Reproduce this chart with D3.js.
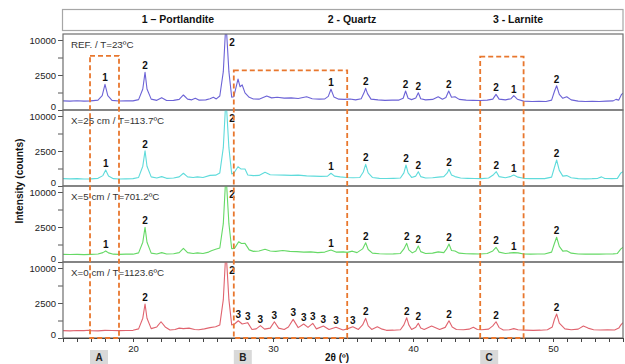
<!DOCTYPE html>
<html>
<head>
<meta charset="utf-8">
<script src="https://cdn.jsdelivr.net/npm/d3@7"></script>
<style>
  body { margin: 0; background: #fff; }
  svg { display: block; font-family: Arial, "Liberation Sans", sans-serif; }
</style>
</head>
<body>
<div id="xrd"></div>
<script>
// ---- data (2θ in degrees, intensity in counts) ----
const phaseNames = ["1 – Portlandite", "2 - Quartz", "3 - Larnite"];
const sampleNames = ["REF. / T=23ºC", "X=25 cm / T=113.7ºC", "X=5 cm / T=701.2ºC", "X=0 cm / T=1123.6ºC"];

const refPattern = [[15.0,170],[15.5,160],[16.0,175],[16.5,160],[17.0,170],[17.5,200],[17.8,420],[18.0,1350],[18.2,420],[18.5,190],[19.0,165],[19.5,175],[20.0,170],[20.4,220],[20.7,900],[20.86,2900],[21.0,900],[21.3,240],[21.7,190],[22.05,310],[22.4,185],[22.9,190],[23.3,230],[23.6,460],[23.9,240],[24.2,210],[24.45,280],[24.7,200],[25.2,210],[25.5,260],[25.74,330],[25.95,250],[26.2,400],[26.45,3000],[26.64,16000],[26.85,3000],[27.05,330],[27.2,360],[27.5,1960],[27.65,1100],[27.8,1280],[28.0,600],[28.3,330],[28.6,250],[29.0,240],[29.55,400],[29.9,300],[30.3,330],[30.8,290],[31.3,300],[31.8,270],[32.4,360],[32.8,260],[33.3,240],[33.7,250],[33.95,380],[34.14,874],[34.35,350],[34.7,240],[35.1,230],[35.5,250],[35.9,210],[36.3,260],[36.5,600],[36.62,960],[36.75,550],[37.0,240],[37.5,210],[38.0,190],[38.5,200],[39.0,200],[39.3,280],[39.47,740],[39.65,280],[39.9,220],[40.2,290],[40.38,610],[40.55,260],[40.9,210],[41.4,230],[41.8,360],[42.1,240],[42.35,320],[42.55,740],[42.75,330],[43.0,360],[43.3,230],[43.8,200],[44.3,190],[44.8,185],[45.3,200],[45.7,240],[45.93,500],[46.15,240],[46.6,210],[47.0,260],[47.2,420],[47.45,240],[47.9,160],[48.5,150],[49.0,155],[49.5,150],[49.9,200],[50.1,700],[50.26,1200],[50.45,500],[50.7,280],[50.98,360],[51.3,210],[51.8,160],[52.3,150],[52.8,155],[53.3,150],[53.8,160],[54.3,170],[54.5,230],[54.7,200],[54.9,500],[55.0,570]];

const x25Pattern = [[15.0,110],[15.5,105],[16.0,110],[16.5,100],[17.0,105],[17.5,120],[17.85,220],[18.05,520],[18.25,200],[18.6,110],[19.0,100],[19.5,105],[20.0,110],[20.4,150],[20.7,800],[20.86,2540],[21.0,800],[21.3,170],[21.7,130],[22.05,180],[22.4,120],[22.9,130],[23.3,170],[23.6,330],[23.9,170],[24.3,150],[24.6,170],[25.0,150],[25.5,230],[25.9,240],[26.2,350],[26.45,3000],[26.64,16000],[26.85,3000],[27.05,300],[27.2,330],[27.5,760],[27.7,600],[28.0,590],[28.2,250],[28.6,220],[29.0,230],[29.43,380],[29.8,260],[30.3,250],[30.8,240],[31.3,230],[31.8,240],[32.4,210],[32.9,200],[33.4,190],[33.9,200],[34.14,330],[34.4,200],[34.8,170],[35.26,150],[35.7,140],[36.2,150],[36.45,400],[36.62,960],[36.8,350],[37.1,150],[37.6,120],[38.1,115],[38.6,120],[39.1,130],[39.35,350],[39.5,900],[39.65,350],[39.9,150],[40.2,200],[40.38,420],[40.55,180],[40.9,130],[41.4,140],[41.8,160],[42.2,180],[42.45,350],[42.57,570],[42.75,250],[43.0,180],[43.4,130],[43.9,120],[44.4,115],[44.9,110],[45.4,130],[45.75,260],[45.95,420],[46.15,180],[46.6,140],[47.0,190],[47.2,250],[47.5,160],[47.9,120],[48.4,110],[48.9,115],[49.4,110],[49.9,160],[50.1,700],[50.26,1380],[50.45,500],[50.7,200],[50.98,220],[51.3,140],[51.8,110],[52.3,105],[52.8,110],[53.2,120],[53.47,170],[53.7,115],[54.2,110],[54.6,120],[54.85,350],[55.0,420]];

const x5Pattern = [[15.0,120],[15.5,115],[16.0,120],[16.5,110],[17.0,120],[17.5,130],[17.85,180],[18.05,250],[18.25,170],[18.6,125],[19.0,120],[19.5,125],[20.0,125],[20.4,170],[20.7,800],[20.86,2460],[21.0,800],[21.3,160],[21.7,130],[22.05,180],[22.4,130],[22.9,140],[23.3,180],[23.6,380],[23.9,180],[24.3,150],[24.6,170],[25.0,150],[25.4,200],[25.6,260],[25.9,330],[26.2,400],[26.45,3000],[26.64,16000],[26.85,3000],[27.05,360],[27.25,380],[27.55,840],[27.75,700],[28.0,710],[28.3,300],[28.6,230],[29.0,250],[29.43,330],[29.8,250],[30.2,230],[30.7,270],[31.2,230],[31.7,220],[32.2,200],[32.7,210],[33.2,180],[33.7,200],[34.14,290],[34.5,200],[35.02,210],[35.3,190],[35.67,240],[36.0,180],[36.4,350],[36.62,760],[36.8,320],[37.1,160],[37.6,140],[38.1,130],[38.6,135],[39.1,150],[39.35,350],[39.55,710],[39.7,300],[39.95,170],[40.2,250],[40.38,520],[40.55,220],[40.9,150],[41.4,160],[41.8,210],[42.2,180],[42.4,350],[42.57,660],[42.75,270],[43.0,250],[43.3,160],[43.8,140],[44.3,135],[44.8,130],[45.3,150],[45.7,250],[45.93,440],[46.15,200],[46.6,150],[47.0,170],[47.2,180],[47.5,170],[47.9,130],[48.4,125],[48.9,130],[49.4,130],[49.9,200],[50.1,700],[50.26,1250],[50.45,500],[50.7,240],[50.98,260],[51.3,160],[51.8,130],[52.3,125],[52.8,130],[53.3,125],[53.8,130],[54.3,135],[54.6,150],[54.85,350],[55.0,440]];

const x0Pattern = [[15.0,110],[15.5,105],[16.0,115],[16.5,110],[16.8,125],[17.0,110],[17.5,105],[18.0,120],[18.5,115],[19.0,110],[19.5,115],[20.0,120],[20.4,170],[20.7,800],[20.86,2360],[21.0,800],[21.3,180],[21.7,250],[22.0,540],[22.3,250],[22.64,130],[23.0,150],[23.3,200],[23.6,180],[24.0,200],[24.4,150],[24.7,140],[25.1,170],[25.5,220],[25.9,260],[26.2,350],[26.45,3000],[26.64,16000],[26.85,3000],[27.05,350],[27.25,400],[27.52,610],[27.8,400],[28.19,480],[28.5,150],[28.8,170],[29.1,310],[29.4,160],[29.8,200],[30.1,540],[30.4,200],[30.8,150],[31.1,250],[31.44,710],[31.8,220],[32.19,400],[32.5,230],[32.84,440],[33.1,170],[33.6,295],[34.0,150],[34.5,235],[35.0,130],[35.3,170],[35.7,260],[36.1,150],[36.4,350],[36.62,790],[36.8,300],[37.05,150],[37.45,260],[37.8,160],[38.1,120],[38.6,125],[39.1,140],[39.35,350],[39.55,840],[39.7,350],[39.9,150],[40.2,240],[40.38,440],[40.55,200],[40.8,150],[41.33,295],[41.9,150],[42.3,230],[42.57,610],[42.8,250],[43.1,150],[43.6,140],[44.0,160],[44.31,235],[44.6,150],[44.9,140],[45.4,160],[45.7,300],[45.93,540],[46.15,220],[46.45,130],[46.9,140],[47.2,180],[47.5,140],[48.0,125],[48.6,120],[49.1,125],[49.6,140],[49.95,250],[50.1,700],[50.26,1180],[50.45,450],[50.85,170],[51.3,140],[51.8,160],[52.17,295],[52.5,200],[52.9,140],[53.4,130],[53.9,135],[54.4,130],[54.7,200],[54.85,350],[55.0,480]];

// peak markers: [2θ, phase number]
const refPeaks = [[18.0,"1"],[20.86,"2"],[26.64,"2"],[34.14,"1"],[36.62,"2"],[39.47,"2"],[40.38,"2"],[42.55,"2"],[45.93,"2"],[47.2,"1"],[50.26,"2"]];
const x25Peaks = [[18.05,"1"],[20.86,"2"],[26.64,"2"],[34.14,"1"],[36.62,"2"],[39.5,"2"],[40.38,"2"],[42.57,"2"],[45.95,"2"],[47.2,"1"],[50.26,"2"]];
const x5Peaks = [[18.05,"1"],[20.86,"2"],[26.64,"2"],[34.14,"1"],[36.62,"2"],[39.55,"2"],[40.38,"2"],[42.57,"2"],[45.93,"2"],[47.2,"1"],[50.26,"2"]];
const x0Peaks = [[20.86,"2"],[26.64,"2"],[27.52,"3"],[28.19,"3"],[29.1,"3"],[30.1,"3"],[31.44,"3"],[32.19,"3"],[32.84,"3"],[33.6,"3"],[34.5,"3"],[35.7,"3"],[36.62,"2"],[39.55,"2"],[40.38,"2"],[42.57,"2"],[45.93,"2"],[50.26,"2"]];

// highlighted zones: name, 2θ from, 2θ to, top (counts on the REF panel scale)
const zoneNames = ["A", "B", "C"];
const zoneFrom = [16.93, 27.2, 44.8];
const zoneTo = [19.0, 35.3, 47.9];
const zoneTop = [6000, 3200, 5800];

const yTicks = [0, 625, 2500, 5625, 10000];
const yTickLabels = [0, 2500, 10000];
const xTickLabels = [20, 30, 40, 50];


/*******************************/
/*    Declare the constants    */
/*******************************/
const width = 625;
const height = 364;
const left = 63, right = 623;
const plotTop = 34;
const panelHeight = 76;
const colors = ["#6c63d6", "#5fdbdb", "#66d966", "#e0646f"];
const zoneColor = "#e8772e";

const patterns = [refPattern, x25Pattern, x5Pattern, x0Pattern];
const peaks = [refPeaks, x25Peaks, x5Peaks, x0Peaks];


/*******************************/
/*    Append the containers    */
/*******************************/
const svg = d3.select("#xrd")
  .append("svg")
    .attr("width", width)
    .attr("height", height);


/****************************/
/*    Declare the scales    */
/****************************/
const xScale = d3.scaleLinear()
  .domain([15, 55])
  .range([left, right]);

// each panel uses a square-root intensity axis
const yScale = d3.scaleSqrt()
  .domain([0, 10000])
  .range([panelHeight, 6]);

const line = d3.line()
  .x(d => xScale(d[0]))
  .y(d => yScale(d[1]));


/******************************/
/*      Legend at the top      */
/******************************/
svg.append("rect")
  .attr("x", 62.5).attr("y", 9.5)
  .attr("width", right - 62.5).attr("height", 21)
  .attr("fill", "none")
  .attr("stroke", "#a6a6a6")
  .attr("stroke-width", 1.2);

const legendX = [178, 352, 518];
svg.selectAll(".phase")
  .data(phaseNames)
  .join("text")
    .attr("class", "phase")
    .attr("x", (d, i) => legendX[i])
    .attr("y", 23)
    .attr("text-anchor", "middle")
    .attr("font-size", 10.5)
    .attr("font-weight", "bold")
    .attr("fill", "#111")
    .text(d => d);


/******************************/
/*        The 4 panels        */
/******************************/
patterns.forEach((pattern, i) => {
  const top = plotTop + i * panelHeight;
  const panel = svg.append("g")
    .attr("transform", `translate(0, ${top})`);

  panel.append("clipPath")
      .attr("id", `clip-${i}`)
    .append("rect")
      .attr("x", left).attr("y", 0)
      .attr("width", right - left).attr("height", panelHeight);

  panel.append("path")
    .datum(pattern)
    .attr("d", line)
    .attr("clip-path", `url(#clip-${i})`)
    .attr("fill", "none")
    .attr("stroke", colors[i])
    .attr("stroke-width", 1.1)
    .attr("stroke-linejoin", "round");

  // left axis
  const leftAxis = d3.axisLeft(yScale)
    .tickValues(yTicks)
    .tickSize(5)
    .tickPadding(2)
    .tickFormat(d => yTickLabels.includes(d) ? d : "");
  const axisG = panel.append("g")
    .attr("transform", `translate(${left}, 0)`)
    .call(leftAxis);
  axisG.select(".domain").remove();
  axisG.selectAll("line").attr("stroke", "#555");
  axisG.selectAll("text")
    .attr("font-size", 9.5)
    .attr("font-family", "Arial, 'Liberation Sans', sans-serif")
    .attr("fill", "#222")
    .attr("dy", d => d === 0 ? "-0.05em" : "0.32em");

  // panel frame
  panel.append("rect")
    .attr("x", left).attr("y", 0)
    .attr("width", right - left).attr("height", panelHeight)
    .attr("fill", "none")
    .attr("stroke", "#6e6e6e")
    .attr("stroke-width", 1.2);

  // sample name
  panel.append("text")
    .attr("x", 71)
    .attr("y", 14)
    .attr("font-size", 9.8)
    .attr("fill", "#333")
    .text(sampleNames[i]);

  // peak markers
  peaks[i].forEach(([pos, label]) => {
    const near = pattern.filter(d => Math.abs(d[0] - pos) < 0.12);
    const peakValue = d3.max(near, d => d[1]);
    const clipped = peakValue > 10000;
    panel.append("text")
      .attr("x", clipped ? xScale(pos) + 6 : xScale(pos))
      .attr("y", clipped ? 12 : yScale(peakValue) - 3)
      .attr("text-anchor", "middle")
      .attr("font-size", 10)
      .attr("font-weight", "bold")
      .attr("fill", "#111")
      .text(label);
  });
});

const plotBottom = plotTop + 4 * panelHeight;


/**************************/
/*      Bottom axis       */
/**************************/
const bottomAxis = d3.axisBottom(xScale)
  .tickValues(d3.range(15, 56, 1))
  .tickSize(4)
  .tickPadding(3)
  .tickFormat(d => xTickLabels.includes(d) ? d : "");
const xAxisG = svg.append("g")
  .attr("transform", `translate(0, ${plotBottom})`)
  .call(bottomAxis);
xAxisG.select(".domain").attr("stroke", "#444");
xAxisG.selectAll("line").attr("stroke", "#444");
xAxisG.selectAll("text")
  .attr("font-size", 9.5)
  .attr("font-family", "Arial, 'Liberation Sans', sans-serif")
  .attr("fill", "#222");

svg.append("text")
  .attr("x", 337)
  .attr("y", 361)
  .attr("text-anchor", "middle")
  .attr("font-size", 10)
  .attr("font-weight", "bold")
  .attr("fill", "#111")
  .text("2θ (º)");

svg.append("text")
  .attr("transform", `translate(23, ${plotTop + 2 * panelHeight - 5}) rotate(-90)`)
  .attr("text-anchor", "middle")
  .attr("font-size", 10.2)
  .attr("font-weight", "bold")
  .attr("fill", "#111")
  .text("Intensity (counts)");


/******************************/
/*     Highlighted zones      */
/******************************/
zoneNames.forEach((name, i) => {
  const x0 = xScale(zoneFrom[i]);
  const x1 = xScale(zoneTo[i]);
  const y0 = plotTop + yScale(zoneTop[i]);
  svg.append("rect")
    .attr("x", x0).attr("y", y0)
    .attr("width", x1 - x0).attr("height", plotBottom - y0)
    .attr("fill", "none")
    .attr("stroke", zoneColor)
    .attr("stroke-width", 1.8)
    .attr("stroke-dasharray", "5,3");

  svg.append("rect")
    .attr("x", x0).attr("y", 350)
    .attr("width", 18).attr("height", 14)
    .attr("fill", "#d9d9d9");
  svg.append("text")
    .attr("x", x0 + 9)
    .attr("y", 361)
    .attr("text-anchor", "middle")
    .attr("font-size", 10)
    .attr("font-weight", "bold")
    .attr("fill", "#222")
    .text(name);
});
</script>
</body>
</html>
